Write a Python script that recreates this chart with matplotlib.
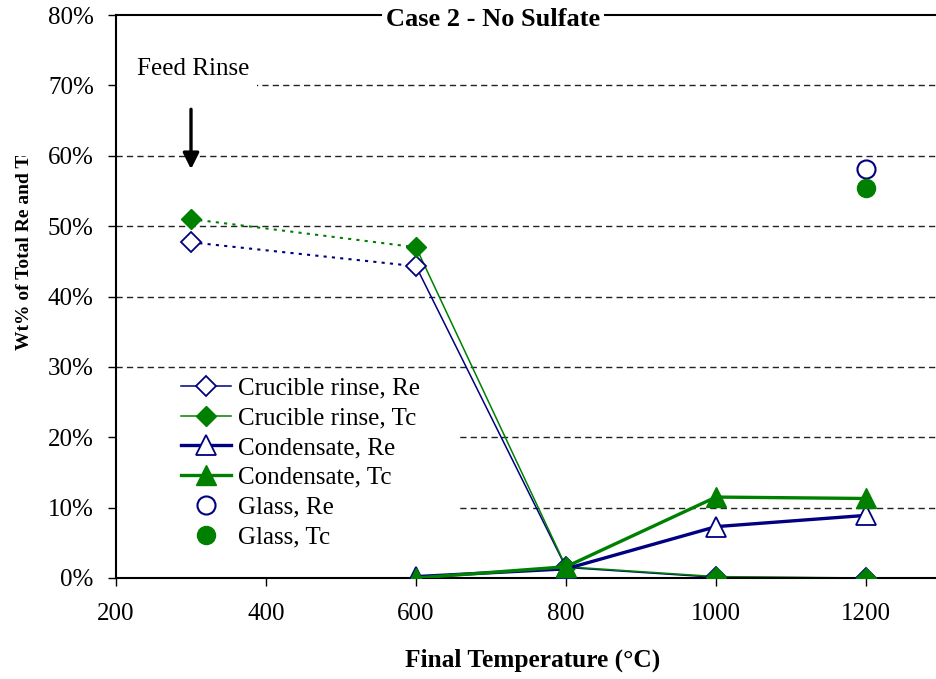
import matplotlib
matplotlib.use('Agg')
import matplotlib.pyplot as plt
from matplotlib.lines import Line2D
from matplotlib.patches import Rectangle
from matplotlib.transforms import Bbox, TransformedBbox

plt.rcParams['font.family'] = ['Liberation Serif', 'DejaVu Serif']

temps = [300, 600, 800, 1000, 1200]
rinse_re = [47.7, 44.3, 1.5, 0.1, 0.0]
rinse_tc = [51.0, 47.0, 1.6, 0.2, 0.0]

cond_temps = [600, 800, 1000, 1200]
cond_re = [0.2, 1.3, 7.3, 8.9]
cond_tc = [0.0, 1.6, 11.5, 11.3]

glass_temp = [1200]
glass_re = [58.1]
glass_tc = [55.4]

xticks = [200, 400, 600, 800, 1000, 1200]
yticks = [0, 10, 20, 30, 40, 50, 60, 70, 80]

navy = '#000080'
green = '#008000'

W, H = 936, 679
fig = plt.figure(figsize=(W / 100, H / 100), dpi=100)
# axes run off the right edge on purpose (x up to 1400)
ax = fig.add_axes([116 / W, (H - 578) / H, 900 / W, 563 / H])
ax.set_xlim(200, 1400)
ax.set_ylim(0, 80)

for y in yticks[1:-1]:
    ax.axhline(y, color='#222222', lw=1.0, dashes=(4.5, 3), zorder=0)

# white blocks behind the label and legend so the grid stops there
ax.add_patch(Rectangle((200, 66), 188, 8, facecolor='white', edgecolor='none', zorder=1))
ax.add_patch(Rectangle((200, 2.5), 455, 27, facecolor='white', edgecolor='none', zorder=1))

# crucible rinse: feed rinse point joined with a dotted line
ax.plot(temps[:2], rinse_re[:2], color=navy, lw=1.5, ls=(0, (1.5, 2.5)), zorder=2)
ax.plot(temps[:2], rinse_tc[:2], color=green, lw=1.5, ls=(0, (1.5, 2.5)), zorder=2)
ax.plot(temps[1:], rinse_re[1:], color=navy, lw=1.1, zorder=2)
ax.plot(temps[1:], rinse_tc[1:], color=green, lw=1.1, zorder=2)
ax.plot(temps, rinse_re, ls='none', marker='D', ms=10, mfc='white', mec=navy, mew=1.3, zorder=3)
ax.plot(temps, rinse_tc, ls='none', marker='D', ms=10, mfc=green, mec=green, zorder=3)

ax.plot(cond_temps, cond_re, color=navy, lw=2.4, marker='^', ms=14, mfc='white', mec=navy, mew=1.3, zorder=4)
ax.plot(cond_temps, cond_tc, color=green, lw=2.4, marker='^', ms=14, mfc=green, mec=green, zorder=4)

ax.plot(glass_temp, glass_re, ls='none', marker='o', ms=13, mfc='white', mec=navy, mew=1.5, zorder=4)
ax.plot(glass_temp, glass_tc, ls='none', marker='o', ms=13, mfc=green, mec=green, zorder=4)

ax.spines['right'].set_visible(False)
for s in ['left', 'bottom', 'top']:
    ax.spines[s].set_linewidth(1.5)

ax.set_xticks(xticks)
ax.set_yticks(yticks)
ax.set_yticklabels([f'{v}%' for v in yticks])
ax.tick_params(direction='out', length=6, width=1.0, labelsize=18)
ax.tick_params(axis='x', pad=12)
ax.tick_params(axis='y', pad=10)

ax.text(493 / W, 1 - 19 / H, 'Case 2 - No Sulfate', transform=fig.transFigure,
        ha='center', va='center', fontsize=19, fontweight='bold',
        bbox=dict(facecolor='white', edgecolor='none', pad=3), zorder=5)

ax.text(137 / W, 1 - 69 / H, 'Feed Rinse', transform=fig.transFigure,
        ha='left', va='center', fontsize=18, zorder=5)
ax.annotate('', xy=(300, 57.7), xytext=(300, 67.0),
            arrowprops=dict(arrowstyle='-|>', color='black', lw=2.4, mutation_scale=24))

fig.text(533 / W, 1 - 660 / H, 'Final Temperature (°C)', ha='center', va='center',
         fontsize=18.3, fontweight='bold')
ylab = fig.text(25 / W, 1 - 350 / H, 'Wt% of Total Re and Tc', rotation=90,
                ha='center', va='bottom', fontsize=14, fontweight='bold')
ylab.set_clip_box(TransformedBbox(Bbox([[0, 0], [1, 1 - 156 / H]]), fig.transFigure))
ylab.set_clip_on(True)

handles = [
    Line2D([], [], color=navy, lw=1.1, marker='D', ms=10, mfc='white', mec=navy, mew=1.3),
    Line2D([], [], color=green, lw=1.1, marker='D', ms=10, mfc=green, mec=green),
    Line2D([], [], color=navy, lw=2.4, marker='^', ms=14, mfc='white', mec=navy, mew=1.3),
    Line2D([], [], color=green, lw=2.4, marker='^', ms=14, mfc=green, mec=green),
    Line2D([], [], ls='none', marker='o', ms=13, mfc='white', mec=navy, mew=1.5),
    Line2D([], [], ls='none', marker='o', ms=13, mfc=green, mec=green),
]
labels = ['Crucible rinse, Re', 'Crucible rinse, Tc', 'Condensate, Re',
          'Condensate, Tc', 'Glass, Re', 'Glass, Tc']
leg = ax.legend(handles, labels, loc='upper left', bbox_to_anchor=(176 / W, 1 - 372 / H),
                bbox_transform=fig.transFigure, fontsize=18, frameon=False,
                handlelength=2.0, handletextpad=0.3, labelspacing=0.29,
                borderpad=0.2, borderaxespad=0)
leg.set_zorder(6)

fig.savefig('out.png', dpi=100)
